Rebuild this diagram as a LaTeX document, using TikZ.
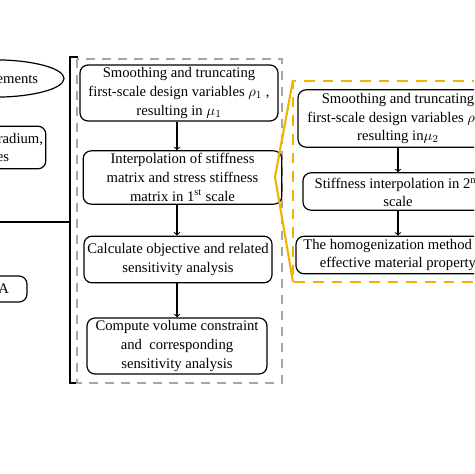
\documentclass[tikz,border=0pt]{standalone}
\usepackage{fontspec}
\setmainfont{Liberation Serif}
\usetikzlibrary{shapes.geometric}
\definecolor{dashgray}{RGB}{166,166,166}
\definecolor{scaleyellow}{RGB}{240,180,0}

\begin{document}
\begin{tikzpicture}[x=0.75pt,y=-0.75pt,
    font=\fontsize{11}{14}\selectfont,
    stepbox/.style={draw,rounded corners=6pt,line width=0.9pt,align=center,inner sep=2pt},
    flow/.style={->,line width=0.8pt}]
    \useasboundingbox (0,0) rectangle (474,474);
    \clip (0,0) rectangle (474,474);

    % left column
    \node[draw,ellipse,line width=0.9pt,minimum width=105pt,minimum height=28pt] (elem) at (-6,78.5) {Mesh elements};
    \node[stepbox,minimum width=95pt,minimum height=32pt] (filt) at (-17.5,147.5) {Define filter radium,\\ variables};
    \node[stepbox,minimum width=48pt,minimum height=19.5pt] (fea) at (-5,289) {FEA};
    \draw[line width=1.5pt] (78,57) -- (70,57) -- (70,383) -- (80,383);
    \draw[line width=1.5pt] (0,222) -- (70,222);

    % first scale
    \draw[dashgray,line width=2pt,dash pattern=on 7pt off 5pt] (77,59) rectangle (282,383);
    \node[stepbox,minimum width=148.5pt,minimum height=42pt] (s1) at (179,93) {Smoothing and truncating\\ first-scale design variables $\rho_1$ ,\\ resulting in $\mu_1$};
    \node[stepbox,minimum width=149pt,minimum height=40pt] (s2) at (182.5,177.5) {Interpolation of stiffness\\ matrix and stress stiffness\\ matrix in 1\textsuperscript{st} scale};
    \node[stepbox,minimum width=141pt,minimum height=35pt] (s3) at (178,259.5) {Calculate objective and related\\ sensitivity analysis};
    \node[stepbox,minimum width=135pt,minimum height=40.5pt] (s4) at (177,346) {Compute volume constraint\\ and~ corresponding\\ sensitivity analysis};
    \draw[flow] (s1.south -| s4) -- (s2.north -| s4);
    \draw[flow] (s2.south -| s4) -- (s3.north -| s4);
    \draw[flow] (s3.south -| s4) -- (s4.north -| s4);

    % second scale
    \draw[scaleyellow,line width=2pt,dash pattern=on 8pt off 6pt] (520,81) -- (293,81) -- (293,282) -- (520,282);
    \draw[scaleyellow,line width=1.6pt] (293,80) -- (275,177) -- (293,282);
    \node[stepbox,minimum width=150pt,minimum height=43pt] (t1) at (398,118.5) {Smoothing and truncating\\ first-scale design variables $\rho_2$ ,\\ resulting in$\mu_2$};
    \node[stepbox,minimum width=142.5pt,minimum height=28pt] (t2) at (398,191.5) {Stiffness interpolation in 2\textsuperscript{nd}\\ scale};
    \node[stepbox,minimum width=153pt,minimum height=27pt] (t3) at (398,255) {The homogenization method for\\ effective material property};
    \draw[flow] (t1) -- (t2);
    \draw[flow] (t2) -- (t3);
\end{tikzpicture}
\end{document}
